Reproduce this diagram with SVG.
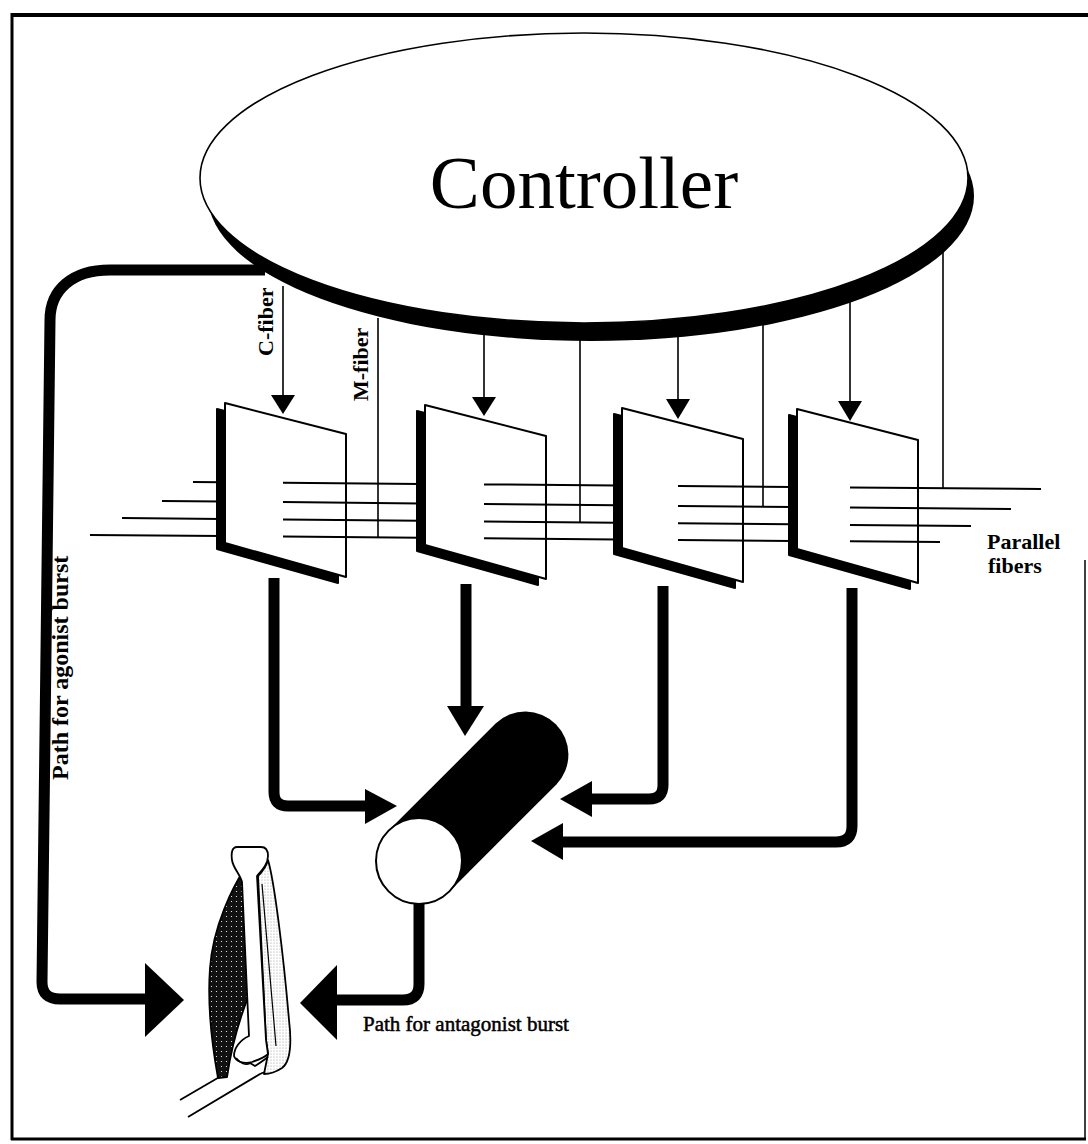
<svg xmlns="http://www.w3.org/2000/svg" width="1088" height="1144" viewBox="0 0 1088 1144">
  <style>
    .thin { fill: none; stroke: #000; stroke-width: 1.6; }
    .fiber { fill: none; stroke: #000; stroke-width: 2; }
    .thick { fill: none; stroke: #000; stroke-width: 11; stroke-linejoin: round; }
    .head { fill: #000; stroke: none; }
    .panel { fill: #fff; stroke: #000; stroke-width: 2; stroke-linejoin: round; }
    .shadow { fill: #000; stroke: #000; stroke-width: 2; stroke-linejoin: round; }
    .label { font-family: "Liberation Serif", "Times New Roman", serif; font-weight: bold; font-size: 22px; fill: #000; }
    .caption { font-family: "Liberation Serif", "Times New Roman", serif; font-size: 21px; fill: #000; stroke: #000; stroke-width: 0.5; }
  </style>
  <defs>
    <!-- panel outline: top edge slopes down to the right -->
    <polygon id="panelShape" points="0,0 121,31 121,174 0,140"/>
    <pattern id="darkStipple" width="5" height="5" patternUnits="userSpaceOnUse">
      <rect width="5" height="5" fill="#111"/>
      <circle cx="1.5" cy="1.5" r="0.6" fill="#fff"/>
    </pattern>
    <pattern id="lightStipple" width="3" height="3" patternUnits="userSpaceOnUse">
      <rect width="3" height="3" fill="#fff"/>
      <circle cx="1" cy="1" r="0.6" fill="#999"/>
    </pattern>
  </defs>

  <rect width="1088" height="1144" fill="#fff"/>

  <!-- outer frame -->
  <g id="frame">
    <line x1="12" y1="15" x2="1088" y2="15" stroke="#000" stroke-width="4"/>
    <line x1="12" y1="13" x2="12" y2="1140" stroke="#000" stroke-width="3"/>
    <line x1="11" y1="1139" x2="1086" y2="1139" stroke="#000" stroke-width="3"/>
    <line x1="1085" y1="560" x2="1085" y2="1140" stroke="#000" stroke-width="1.5"/>
  </g>

  <!-- parallel fibers (drawn beneath the panels) -->
  <g id="parallel-fibers">
    <line class="fiber" x1="193" y1="482" x2="222" y2="482.2"/>
    <line class="fiber" x1="162" y1="501" x2="222" y2="501.5"/>
    <line class="fiber" x1="122" y1="518" x2="222" y2="518.9"/>
    <line class="fiber" x1="90" y1="535" x2="222" y2="536.1"/>
  </g>

  <g id="connectors">
    <!-- path for agonist burst, leaving the controller -->
    <path class="thick" d="M265,270 H110 C72,270 50,290 50,320 L42,982 Q42,999 60,999 H150"/>
    <polygon class="head" points="145,963 145,1037 184,1000"/>

    <!-- C-fiber arrows -->
    <line class="thin" x1="283" y1="286" x2="283" y2="398"/>
    <polygon class="head" points="271,395 295,395 283,414"/>
    <line class="thin" x1="484" y1="330" x2="484" y2="400"/>
    <polygon class="head" points="472,397 496,397 484,416"/>
    <line class="thin" x1="678" y1="330" x2="678" y2="402"/>
    <polygon class="head" points="666,399 690,399 678,419"/>
    <line class="thin" x1="850" y1="300" x2="850" y2="404"/>
    <polygon class="head" points="838,401 862,401 850,421"/>

    <!-- M-fibers -->
    <line class="thin" x1="378" y1="318" x2="378" y2="537.5"/>
    <line class="thin" x1="580" y1="330" x2="580" y2="522"/>
    <line class="thin" x1="763" y1="318" x2="763" y2="507"/>
    <line class="thin" x1="943" y1="245" x2="943" y2="488.5"/>
  </g>

  <!-- controller -->
  <g id="controller">
    <ellipse cx="591" cy="196" rx="383" ry="145" fill="#000"/>
    <ellipse cx="584" cy="178" rx="384" ry="145" fill="#fff" stroke="#000" stroke-width="1.6"/>
    <text x="584" y="208" text-anchor="middle" font-family="'Liberation Serif', 'Times New Roman', serif" font-size="75">Controller</text>
  </g>

  <!-- C-fiber / M-fiber labels -->
  <text class="label" transform="translate(273,356) rotate(-90)">C-fiber</text>
  <text class="label" transform="translate(368,401) rotate(-90)">M-fiber</text>

  <!-- panels -->
  <g id="panel-1">
    <use href="#panelShape" class="shadow" x="217" y="409"/>
    <use href="#panelShape" class="panel" x="225" y="403"/>
  </g>
  <g id="panel-2">
    <use href="#panelShape" class="shadow" x="417" y="411"/>
    <use href="#panelShape" class="panel" x="425" y="405"/>
  </g>
  <g id="panel-3">
    <use href="#panelShape" class="shadow" x="614" y="414"/>
    <use href="#panelShape" class="panel" x="622" y="408"/>
  </g>
  <g id="panel-4">
    <use href="#panelShape" class="shadow" x="789" y="415"/>
    <use href="#panelShape" class="panel" x="797" y="409"/>
  </g>

  <!-- parallel fibers passing out of each panel -->
  <g id="fiber-segments">
    <line class="fiber" x1="283" y1="482.7" x2="420" y2="483.9"/>
    <line class="fiber" x1="283" y1="502.1" x2="420" y2="503.4"/>
    <line class="fiber" x1="283" y1="519.5" x2="420" y2="520.8"/>
    <line class="fiber" x1="283" y1="536.6" x2="420" y2="537.7"/>

    <line class="fiber" x1="484" y1="484.4" x2="617" y2="485.5"/>
    <line class="fiber" x1="484" y1="504.0" x2="617" y2="505.3"/>
    <line class="fiber" x1="484" y1="521.4" x2="617" y2="522.7"/>
    <line class="fiber" x1="484" y1="538.3" x2="617" y2="539.4"/>

    <line class="fiber" x1="678" y1="486.0" x2="792" y2="486.9"/>
    <line class="fiber" x1="678" y1="505.9" x2="792" y2="506.9"/>
    <line class="fiber" x1="678" y1="523.2" x2="792" y2="524.3"/>
    <line class="fiber" x1="678" y1="539.9" x2="792" y2="540.9"/>

    <line class="fiber" x1="850" y1="487.4" x2="1041" y2="489.0"/>
    <line class="fiber" x1="850" y1="507.5" x2="1011" y2="509.0"/>
    <line class="fiber" x1="850" y1="524.9" x2="971" y2="526.0"/>
    <line class="fiber" x1="850" y1="541.3" x2="940" y2="542.0"/>
  </g>

  <text class="label"><tspan x="987" y="549">Parallel</tspan><tspan x="988" y="573">fibers</tspan></text>

  <!-- panel outputs converging on the cylinder -->
  <g id="outputs">
    <path class="thick" d="M274,578 V792 Q274,806 288,806 H368"/>
    <polygon class="head" points="365,789 365,824 397,806"/>
    <path class="thick" d="M466,584 V709"/>
    <polygon class="head" points="447,706 484,706 465,736"/>
    <path class="thick" d="M663,586 V785 Q663,799 649,799 H589"/>
    <polygon class="head" points="592,781 592,817 560,799"/>
    <path class="thick" d="M852,588 V826 Q852,842 836,842 H560"/>
    <polygon class="head" points="563,823 563,860 531,841"/>
    <!-- path for antagonist burst -->
    <path class="thick" d="M419,900 V984 Q419,1000 403,1000 H334"/>
    <polygon class="head" points="337,965 337,1040 300,1003"/>
  </g>

  <!-- cylinder -->
  <g id="cylinder">
    <path d="M388.6,830.6 L495.6,723.6 A43,43 0 0 1 556.4,784.4 L449.4,891.4 Z" fill="#000"/>
    <circle cx="419" cy="861" r="43" fill="#fff" stroke="#000" stroke-width="2"/>
  </g>

  <!-- arm: humerus with biceps and triceps, forearm below -->
  <g id="arm" stroke="#000" stroke-width="1.8" stroke-linejoin="round">
    <path d="M180,1100 L228,1072" fill="none"/>
    <path d="M188,1117 L260,1074 C264,1072 268,1071 272,1070" fill="none"/>
    <path d="M244,870 C234,885 213,925 210,968 C207,1008 212,1045 218,1078 L227,1077 C231,1050 239,1020 249,995 L247,880 Z" fill="url(#darkStipple)"/>
    <path d="M258,876 C262,872 266,868 268,860 C274,880 283,950 289,1020 C292,1045 290,1062 282,1068 C276,1072 270,1074 264,1074 L268,1054 L266,1040 Z" fill="url(#lightStipple)"/>
    <path d="M237,847 C232,847 231,853 232,860 C233,868 240,874 242,882 L249,1036 C240,1040 234,1048 234,1056 C236,1062 244,1064 252,1062 C258,1060 264,1058 268,1054 L266,1040 L257,876 C262,870 268,864 268,856 C268,850 265,847 261,847 Z" fill="#fff"/>
    <path d="M236,1058 C240,1063 246,1066 250,1063 L255,1066 C260,1063 264,1060 268,1057" fill="none"/>
    <path d="M262,884 L276,1046" fill="none" stroke-width="1.2"/>
  </g>

  <text class="label" font-size="24" style="font-size:24px" transform="translate(68,780) rotate(-90)">Path for agonist burst</text>
  <text class="caption" x="363" y="1031">Path for antagonist burst</text>
</svg>
